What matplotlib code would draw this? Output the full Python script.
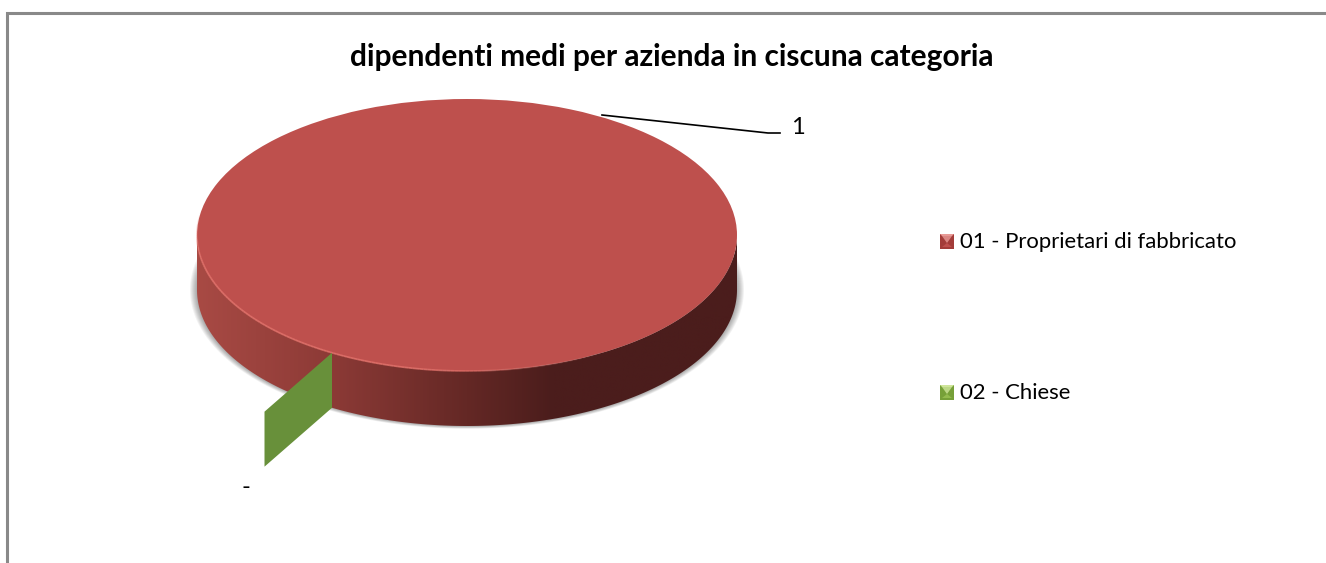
import numpy as np
import matplotlib
matplotlib.use('Agg')
import matplotlib.pyplot as plt
from matplotlib.collections import LineCollection
from matplotlib.colors import LinearSegmentedColormap
from matplotlib.patches import Polygon

title = 'dipendenti medi per azienda in ciscuna categoria'
categories = ['01 - Proprietari di fabbricato', '02 - Chiese']
values = [1, 0]
value_labels = ['1', '-']
colors = ['#BE504D', '#68903A']

W, H = 1326, 563
plt.rcParams['font.family'] = ['Lato', 'DejaVu Sans']
fig = plt.figure(figsize=(W / 100, H / 100), dpi=100, facecolor='white')

# pixel axes for the frame, texts and legend
page = fig.add_axes([0, 0, 1, 1], zorder=3)
page.set_xlim(0, W)
page.set_ylim(H, 0)
page.axis('off')
page.patch.set_alpha(0)

# pie axes: unit circle maps on the flattened top of the disc
cx, cy, rx, ry = 467, 235, 270, 136
pie_ax = fig.add_axes([(cx - rx) / W, 1 - (cy + ry) / H, 2 * rx / W, 2 * ry / H], zorder=2)
start = 240
pie_ax.pie(values, colors=colors, startangle=start, radius=1, counterclock=True,
           wedgeprops={'linewidth': 0, 'zorder': 5})
pie_ax.set_aspect('auto')
for p in pie_ax.patches:
    p.set_clip_on(False)
depth = 55 / ry
explode = 1.5

# soft shadow under the disc
t = np.linspace(0, 2 * np.pi, 300)
for k in np.linspace(1.0, 7.0, 7):
    pie_ax.fill((rx + k) / rx * np.cos(t), (ry + k * 0.4) / ry * np.sin(t) - depth,
                color='black', alpha=0.05, lw=0, zorder=1, clip_on=False)

# side wall with horizontal gradient
wall_cmap = LinearSegmentedColormap.from_list('wall', [
    (0.0, '#A84A44'), (0.25, '#8C3A36'), (0.5, '#642825'), (0.66, '#4B1D1C'), (1.0, '#4B1D1C')])
tf = np.linspace(np.pi, 2 * np.pi, 200)
wall_x = np.r_[np.cos(tf), np.cos(tf[::-1])]
wall_y = np.r_[np.sin(tf) - depth, np.sin(tf[::-1])]
wall = Polygon(np.c_[wall_x, wall_y], closed=True, transform=pie_ax.transData, fc='none', ec='none')
pie_ax.add_patch(wall)
img = pie_ax.imshow(np.linspace(0, 1, 512)[None, :], cmap=wall_cmap, aspect='auto',
                    extent=[-1, 1, -1 - depth, 0.2], zorder=2)
img.set_clip_box(fig.bbox)
img.set_clip_path(wall)
pie_ax.set_xlim(-1, 1)
pie_ax.set_ylim(-1, 1)

# light rim along the front left of the top face
ta = np.radians(np.linspace(170, 300, 160))
rim_pts = np.c_[np.cos(ta), np.sin(ta)]
segs = np.stack([rim_pts[:-1], rim_pts[1:]], axis=1)
fade = np.clip(np.minimum((ta[:-1] - ta[0]) / 0.35, (ta[-1] - ta[:-1]) / 0.7), 0, 1) * 0.8
rim_cols = np.tile(matplotlib.colors.to_rgba('#E4716A'), (len(segs), 1))
rim_cols[:, 3] = fade
pie_ax.add_collection(LineCollection(segs, colors=rim_cols, lw=1.3, zorder=6, clip_on=False))

# the zero slice only shows its cut face, pulled out of the disc
theta = np.radians(start + 360 * values[0] / sum(values))
ux, uy = np.cos(theta), np.sin(theta)
pie_ax.add_patch(Polygon([(ux, uy), (explode * ux, explode * uy),
                          (explode * ux, explode * uy - depth), (ux, uy - depth)],
                         closed=True, fc=colors[1], ec='none', zorder=7, clip_on=False))
pie_ax.set_frame_on(False)

# chart frame, no right or bottom edge in the crop
page.plot([7, 7, W], [H, 13, 13], color='#898989', lw=2.2, solid_joinstyle='miter')

page.text(671.5, 57, title, fontsize=21.5, fontweight='bold', color='black', ha='center', va='center')

# leader and data labels
page.plot([602, 768, 780], [115, 133, 133], color='black', lw=1.2)
page.text(798, 128, value_labels[0], fontsize=17, ha='center', va='center', color='black')
page.text(246, 487, value_labels[1], fontsize=17, ha='center', va='center', color='black')

# legend with bevelled swatches
swatches = [('#BE504D', '#E89A96', '#A33C39'), ('#93BB4E', '#CFE59A', '#76A038')]
for name, ly, (base, light, dark) in zip(categories, [241, 392], swatches):
    x0, x1, y0, y1 = 940, 954, ly - 7, ly + 8
    page.add_patch(Polygon([(x0, y0), (x1, y0), (x1, y1), (x0, y1)], fc=dark, ec='none'))
    page.add_patch(Polygon([(x0, y0), (x1, y0), (x1 - 2, y0 + 2), (x0 + 2, y0 + 2)], fc=light, ec='none'))
    page.add_patch(Polygon([(x0 + 2, y0 + 2), (x1 - 2, y0 + 2), ((x0 + x1) / 2, ly + 2)], fc=light, ec='none', alpha=0.8))
    page.add_patch(Polygon([(x0 + 2, y1 - 2), (x1 - 2, y1 - 2), ((x0 + x1) / 2, ly + 2)], fc=base, ec='none'))
    page.text(960, ly + 1, name, fontsize=15.9, va='center', ha='left', color='black')

fig.savefig('out.png', dpi=100, facecolor='white')
